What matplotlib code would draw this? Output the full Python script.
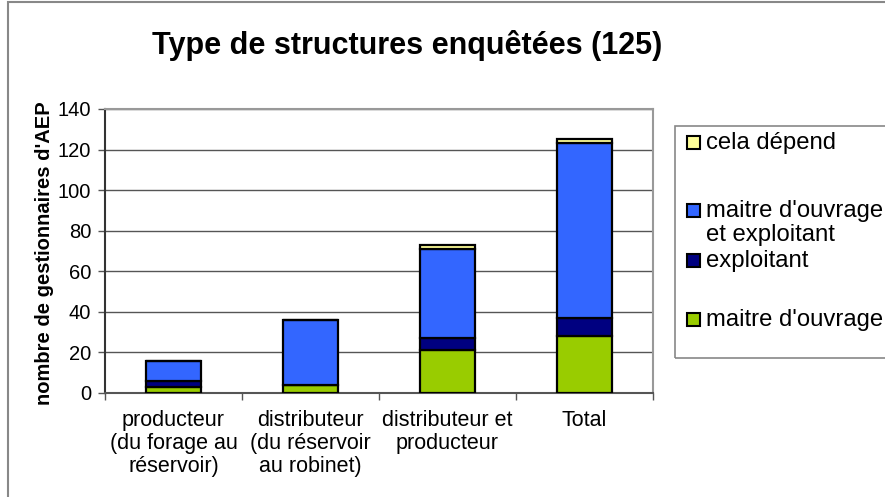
import matplotlib.pyplot as plt
import numpy as np
from matplotlib.patches import Rectangle

plt.rcParams['font.family'] = ['Liberation Sans', 'DejaVu Sans']

# Données
categories = ['producteur\n(du forage au\nréservoir)',
              'distributeur\n(du réservoir\nau robinet)',
              'distributeur et\nproducteur',
              'Total']
maitre_ouvrage = [3, 4, 21, 28]
exploitant = [3, 0, 6, 9]
maitre_et_exploitant = [10, 32, 44, 86]
cela_depend = [0, 0, 2, 2]

series = [
    ("maitre d'ouvrage", maitre_ouvrage, '#99CC00'),
    ('exploitant', exploitant, '#000080'),
    ("maitre d'ouvrage\net exploitant", maitre_et_exploitant, '#3366FF'),
    ('cela dépend', cela_depend, '#FFFF99'),
]

W, H = 885, 497
fig = plt.figure(figsize=(W / 100, H / 100), dpi=100)
ax = fig.add_axes([105 / W, 1 - 393 / H, (653 - 105) / W, (393 - 109) / H])

x = np.arange(len(categories))
bas = np.zeros(len(categories))
for nom, vals, coul in series:
    ax.bar(x, vals, width=0.4, bottom=bas, color=coul, edgecolor='black',
           linewidth=1.6, zorder=3)
    bas += np.array(vals)

ax.set_xlim(-0.5, 3.5)
ax.set_ylim(0, 140)
ax.set_yticks(range(0, 141, 20))
ax.yaxis.grid(True, color='#555555', linewidth=1.0, zorder=0)
ax.tick_params(axis='y', labelsize=14.5, length=5, width=1, color='#555555', pad=5)

ax.set_xticks(x)
ax.set_xticklabels(categories, fontsize=15.5, linespacing=1.15)
ax.set_xticks(np.arange(-0.5, 4, 1), minor=True)
ax.tick_params(axis='x', which='major', length=0, pad=12)
ax.tick_params(axis='x', which='minor', length=5, width=1, color='#555555')

ax.spines['left'].set_color('#333333')
ax.spines['bottom'].set_color('#555555')
ax.spines['top'].set_color('#999999')
ax.spines['right'].set_color('#999999')
for s in ax.spines.values():
    s.set_linewidth(1.5)

fig.text(45 / W, 1 - 253 / H, "nombre de gestionnaires d'AEP", rotation=90,
         ha='center', va='center', fontsize=14.5, fontweight='bold')
fig.text(407 / W, 1 - 54 / H, 'Type de structures enquêtées (125)',
         ha='center', va='baseline', fontsize=22, fontweight='bold')

# cadre extérieur (coupé à droite et en bas)
fig.patches.append(Rectangle((8 / W, -0.1), 1.2, 1.1 - 2 / H, transform=fig.transFigure,
                             fill=False, edgecolor='#888888', linewidth=1.5))

# légende dessinée à la main (espacement irrégulier comme l'original)
fig.patches.append(Rectangle((675 / W, 1 - 358 / H), 0.5, (358 - 126) / H,
                             transform=fig.transFigure, fill=False,
                             edgecolor='#888888', linewidth=1.2))
legende = [
    ('cela dépend', '#FFFF99', [143]),
    ("maitre d'ouvrage\net exploitant", '#3366FF', [211, 235]),
    ('exploitant', '#000080', [261]),
    ("maitre d'ouvrage", '#99CC00', [320]),
]
for nom, coul, ys in legende:
    fig.patches.append(Rectangle((687 / W, 1 - (ys[0] + 6) / H), 13 / W, 13 / H,
                                 transform=fig.transFigure, facecolor=coul,
                                 edgecolor='black', linewidth=1.5))
    for ligne, yy in zip(nom.split('\n'), ys):
        fig.text(706 / W, 1 - yy / H, ligne, ha='left', va='center', fontsize=17.2)

fig.savefig('out.png', dpi=100)
